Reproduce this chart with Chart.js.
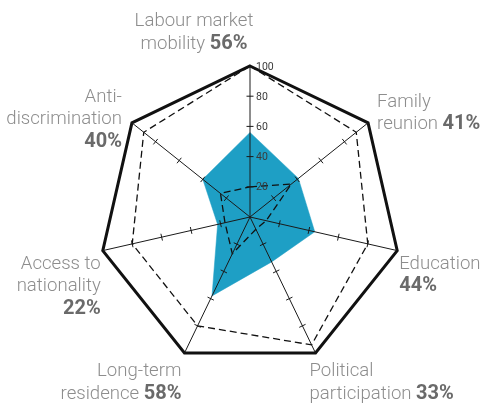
<!DOCTYPE html>
<html>
<head>
<meta charset="utf-8">
<script src="https://cdn.jsdelivr.net/npm/chart.js@4.4.1/dist/chart.umd.min.js"></script>
<style>
html,body{margin:0;padding:0;background:#fff;}
#wrap{width:483px;height:404px;position:relative;}
</style>
</head>
<body>
<div id="wrap"><canvas id="c"></canvas></div>
<script>
// ---- data ----
const categories = ['Labour market mobility','Family reunion','Education','Political participation','Long-term residence','Access to nationality','Anti-discrimination'];
const labelLines = [
  ['Labour market','mobility'],
  ['Family','reunion'],
  ['Education',''],
  ['Political','participation'],
  ['Long-term','residence'],
  ['Access to','nationality',''],
  ['Anti-','discrimination','']
];
const countryScores = [56, 41, 44, 33, 58, 22, 40];
const highestScores = [100, 90, 80, 94, 80, 80, 90];
const lowestScores = [20, 35, 11, 9, 27, 17, 25];
const tickValues = [20, 40, 60, 80, 100];

// label layout (offsets from each axis end, alignment)
const labelLayout = [
  {dx:-56, dy:-40, align:'center'},
  {dx:9, dy:-16, align:'left'},
  {dx:2, dy:18, align:'left'},
  {dx:-6, dy:23, align:'left'},
  {dx:-3, dy:23, align:'right'},
  {dx:-2, dy:18, align:'right'},
  {dx:-10, dy:-21, align:'right'}
];
const LINE_H = 22.5;
const REG_FONT = '300 18.6px Roboto';
const BOLD_FONT = '700 20px Roboto';
const REG_COLOR = '#8d8d8d';
const BOLD_COLOR = '#6a6a6a';

const overlay = {
  id:'overlay',
  afterDatasetsDraw(chart){
    const s = chart.scales.r;
    const ctx = chart.ctx;
    const cx = s.xCenter, cy = s.yCenter;
    ctx.save();
    // angle lines
    ctx.strokeStyle = '#1a1a1a';
    ctx.lineWidth = 1;
    for(let i=0;i<categories.length;i++){
      const p = s.getPointPositionForValue(i, 100);
      ctx.beginPath(); ctx.moveTo(cx,cy); ctx.lineTo(p.x,p.y); ctx.stroke();
      const len = Math.hypot(p.x-cx,p.y-cy);
      const ux=(p.x-cx)/len, uy=(p.y-cy)/len;
      const nx=-uy, ny=ux;
      tickValues.forEach(v=>{
        if(v>=100) return;
        const q = s.getPointPositionForValue(i, v);
        ctx.beginPath();
        ctx.moveTo(q.x-nx*3.5,q.y-ny*3.5);
        ctx.lineTo(q.x+nx*3.5,q.y+ny*3.5);
        ctx.stroke();
      });
    }
    // tick labels on the first axis
    ctx.fillStyle = '#3a3a3a';
    ctx.font = '10.5px Roboto';
    ctx.textAlign='left'; ctx.textBaseline='middle';
    tickValues.forEach(v=>{
      const q = s.getPointPositionForValue(0, v);
      ctx.fillText(String(v), q.x+6, q.y+1);
    });
    // category labels
    ctx.textBaseline='alphabetic';
    for(let i=0;i<categories.length;i++){
      const p = s.getPointPositionForValue(i, 100);
      const L = labelLayout[i];
      const lines = labelLines[i];
      const pct = countryScores[i] + '%';
      lines.forEach((txt,k)=>{
        const last = k===lines.length-1;
        const y = p.y + L.dy + k*LINE_H;
        const x = p.x + L.dx;
        let reg = txt, bold = last ? pct : '';
        if(last && reg) reg = reg + ' ';
        ctx.font = REG_FONT; const w1 = ctx.measureText(reg).width;
        ctx.font = BOLD_FONT; const w2 = ctx.measureText(bold).width;
        const tw = w1+w2;
        let x0 = L.align==='left' ? x : L.align==='right' ? x-tw : x-tw/2;
        ctx.textAlign='left';
        ctx.font = REG_FONT; ctx.fillStyle = REG_COLOR; ctx.fillText(reg, x0, y);
        ctx.font = BOLD_FONT; ctx.fillStyle = BOLD_COLOR; ctx.fillText(bold, x0+w1, y);
      });
    }
    ctx.restore();
  }
};

new Chart(document.getElementById('c'), {
  type:'radar',
  data:{
    labels: categories,
    datasets:[
      {data: highestScores, fill:false, borderColor:'#111', borderWidth:1.3, borderDash:[7,4], pointRadius:0, tension:0},
      {data: lowestScores, fill:false, borderColor:'#111', borderWidth:1.3, borderDash:[7,4], pointRadius:0, tension:0},
      {data: countryScores, fill:true, backgroundColor:'#1e9fc5', borderColor:'#1e9fc5', borderWidth:0.5, pointRadius:0, tension:0}
    ]
  },
  options:{
    responsive:true, maintainAspectRatio:false, animation:false,
    layout:{padding:{top:66,bottom:36,left:99,right:82}},
    plugins:{legend:{display:false}, tooltip:{enabled:false}},
    scales:{
      r:{
        min:0, max:100,
        ticks:{display:false, stepSize:20},
        pointLabels:{display:false},
        angleLines:{display:false},
        grid:{
          color: ctx => (ctx.tick && ctx.tick.value===100) ? '#111' : 'rgba(0,0,0,0)',
          lineWidth: ctx => (ctx.tick && ctx.tick.value===100) ? 3 : 0
        }
      }
    }
  },
  plugins:[overlay]
});
</script>
</body>
</html>
